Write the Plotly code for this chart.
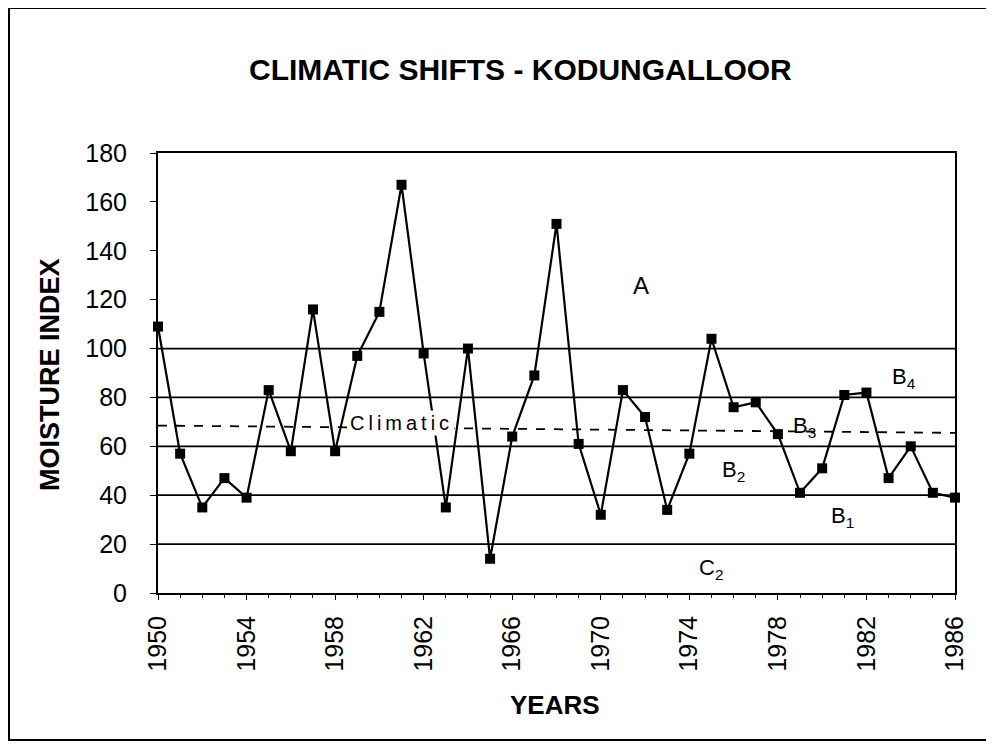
import plotly.graph_objects as go

years = list(range(1950, 1987))
moisture_index = [109, 57, 35, 47, 39, 83, 58, 116, 58, 97,
                  115, 167, 98, 35, 100, 14, 64, 89, 151, 61,
                  32, 83, 72, 34, 57, 104, 76, 78, 65, 41,
                  51, 81, 82, 47, 60, 41, 39]

boundaries = [100, 80, 60, 40, 20]
climatic_trend_years = [1950, 1986]
climatic_trend_values = [68.5, 65.5]

zone_labels = ["A", "B<sub>4</sub>", "B<sub>3</sub>", "B<sub>2</sub>", "B<sub>1</sub>", "C<sub>2</sub>"]
zone_label_years = [1971.8, 1983.7, 1979.2, 1976.0, 1980.9, 1975.0]
zone_label_values = [126, 88, 68, 50, 31, 10]
zone_label_sizes = [24, 22, 22, 22, 22, 22]

FONT = "Liberation Sans, Arial, sans-serif"

# page body adds an 8px offset; work in figure pixels
OFF = 8
FIG_W, FIG_H = 986, 735
L, R, T, B = 158 - OFF, 955 - OFF, 153 - OFF, 593 - OFF
W, H = R - L, B - T


def px(xp):
    return (xp - OFF - L) / W


def py(yp):
    return (B - (yp - OFF)) / H


fig = go.Figure()

for b in boundaries:
    fig.add_trace(go.Scatter(x=[years[0], years[-1]], y=[b, b], mode="lines",
                             line=dict(color="black", width=1.8),
                             hoverinfo="skip", showlegend=False))

fig.add_trace(go.Scatter(x=climatic_trend_years, y=climatic_trend_values, mode="lines",
                         line=dict(color="black", width=1.8, dash="dash"),
                         hoverinfo="skip", showlegend=False))

fig.add_trace(go.Scatter(x=years, y=moisture_index, mode="lines+markers",
                         line=dict(color="black", width=2.2),
                         marker=dict(symbol="square", size=10, color="black"),
                         cliponaxis=False, showlegend=False))

for t, xv, yv, s in zip(zone_labels, zone_label_years, zone_label_values, zone_label_sizes):
    fig.add_annotation(x=xv, y=yv, text=t, showarrow=False,
                       font=dict(family=FONT, size=s, color="black"))

fig.add_annotation(x=1961, y=69.5, text='<span style="letter-spacing:4px">Climatic</span>',
                   showarrow=False, bgcolor="white",
                   font=dict(family=FONT, size=20, color="black"))

# title and axis titles (positions in reference pixels)
fig.add_annotation(xref="paper", yref="paper", x=px(520), y=py(70),
                   xanchor="center", yanchor="middle",
                   text="<b>CLIMATIC SHIFTS - KODUNGALLOOR</b>", showarrow=False,
                   font=dict(family=FONT, size=30, color="black"))
fig.add_annotation(xref="paper", yref="paper", x=px(50), y=py(375),
                   xanchor="center", yanchor="middle",
                   text="<b>MOISTURE INDEX</b>", showarrow=False, textangle=-90,
                   font=dict(family=FONT, size=27, color="black"))
fig.add_annotation(xref="paper", yref="paper", x=px(555), y=py(705),
                   xanchor="center", yanchor="middle",
                   text="<b>YEARS</b>", showarrow=False,
                   font=dict(family=FONT, size=26, color="black"))

fig.update_layout(
    width=FIG_W, height=FIG_H,
    margin=dict(l=L, r=FIG_W - R, t=T, b=FIG_H - B),
    paper_bgcolor="white", plot_bgcolor="white",
    font=dict(family=FONT, color="black"),
    showlegend=False,
)

fig.update_xaxes(range=[1950, 1986], tickmode="array",
                 tickvals=list(range(1950, 1987, 4)),
                 ticktext=[str(y) for y in range(1950, 1987, 4)],
                 tickangle=-90, tickfont=dict(family=FONT, size=25),
                 ticks="outside", ticklen=5, tickcolor="black",
                 ticklabelstandoff=6,
                 minor=dict(dtick=1, ticks="outside", ticklen=3, tickcolor="black"),
                 showgrid=False, zeroline=False,
                 showline=True, linecolor="black", linewidth=2, mirror=True)

fig.update_yaxes(range=[0, 180], dtick=20, tickfont=dict(family=FONT, size=25),
                 ticks="outside", ticklen=6, tickcolor="black",
                 ticklabelstandoff=18,
                 showgrid=False, zeroline=False,
                 showline=True, linecolor="black", linewidth=2, mirror=True)

fig.add_shape(type="rect", xref="paper", yref="paper",
              x0=px(9), x1=px(987), y0=py(740), y1=py(8),
              line=dict(color="black", width=2), layer="below")

fig.write_html("out.html")
